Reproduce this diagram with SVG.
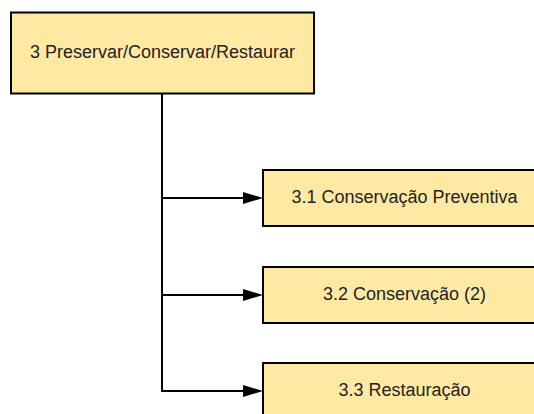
<svg xmlns="http://www.w3.org/2000/svg" width="534" height="414" viewBox="0 0 534 414">
  <style>
    .box { fill: #ffe9a3; stroke: #000; stroke-width: 2; }
    .lbl { font-family: "Liberation Sans", Arial, sans-serif; font-size: 18px; fill: #222; text-anchor: middle; dominant-baseline: central; }
    .conn { fill: none; stroke: #000; stroke-width: 2; }
  </style>
  <rect width="534" height="414" fill="#fff"/>
  <g id="connectors">
    <path class="conn" d="M162,94 V198 H252" />
    <path class="conn" d="M162,198 V295 H252" />
    <path class="conn" d="M162,295 V391 H252" />
    <path d="M243,192 L263,198 L243,204 Z" fill="#000"/>
    <path d="M243,289 L263,295 L243,301 Z" fill="#000"/>
    <path d="M243,385 L263,391 L243,397 Z" fill="#000"/>
  </g>
  <g id="n3">
    <rect class="box" x="11" y="12.5" width="303" height="81"/>
    <text class="lbl" x="162.5" y="52">3 Preservar/Conservar/Restaurar</text>
  </g>
  <g id="n31">
    <rect class="box" x="263" y="170" width="290" height="56"/>
    <text class="lbl" x="404.5" y="197">3.1 Conservação Preventiva</text>
  </g>
  <g id="n32">
    <rect class="box" x="263" y="267" width="290" height="56"/>
    <text class="lbl" x="404.5" y="294">3.2 Conservação (2)</text>
  </g>
  <g id="n33">
    <rect class="box" x="263" y="363" width="290" height="56"/>
    <text class="lbl" x="404.5" y="390">3.3 Restauração</text>
  </g>
</svg>
